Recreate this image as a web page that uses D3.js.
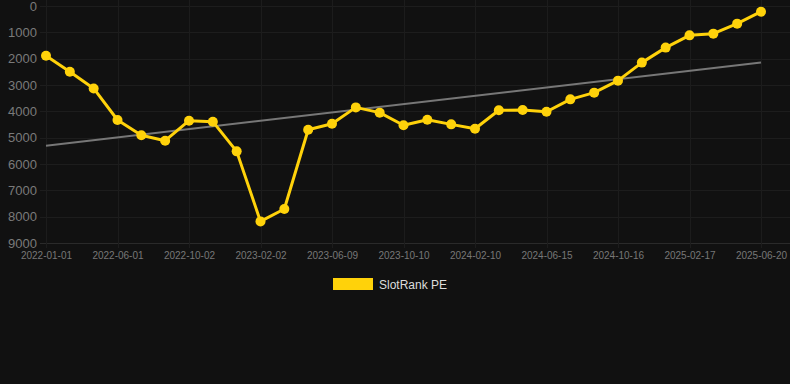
<!DOCTYPE html>
<html>
<head>
<meta charset="utf-8">
<script src="https://cdn.jsdelivr.net/npm/d3@7"></script>
<style>
  html, body { margin: 0; padding: 0; background: #111111; }
  svg { display: block; font-family: "Liberation Sans", Arial, sans-serif; }
</style>
</head>
<body>
<div class="container"></div>
<script>
const width = 790;
const height = 384;

// x categories (every 3rd one is labelled)
const dates = [
  '2022-01-01', '2022-02-20', '2022-04-11', '2022-06-01', '2022-07-12', '2022-08-22',
  '2022-10-02', '2022-11-12', '2022-12-23', '2023-02-02', '2023-03-15', '2023-04-27',
  '2023-06-09', '2023-07-20', '2023-08-30', '2023-10-10', '2023-11-20', '2023-12-31',
  '2024-02-10', '2024-03-22', '2024-05-04', '2024-06-15', '2024-07-26', '2024-09-05',
  '2024-10-16', '2024-11-26', '2025-01-07', '2025-02-17', '2025-03-30', '2025-05-10',
  '2025-06-20'
];

const tickLabels = [
  '2022-01-01', '2022-06-01', '2022-10-02', '2023-02-02', '2023-06-09', '2023-10-10',
  '2024-02-10', '2024-06-15', '2024-10-16', '2025-02-17', '2025-06-20'
];

// SlotRank PE values
const peValues = [
  1890, 2495, 3130, 4330, 4910, 5115, 4355, 4393, 5520, 8180, 7710,
  4700, 4470, 3850, 4050, 4530, 4320, 4495, 4660, 3960, 3950, 4015,
  3545, 3290, 2835, 2150, 1580, 1115, 1050, 670, 215
];

// trend line, first and last value
const trendValues = [5305, 2150];

const yTicks = [0, 1000, 2000, 3000, 4000, 5000, 6000, 7000, 8000, 9000];

const x = d3.scalePoint().domain(dates).range([46, 761]);
const y = d3.scaleLinear().domain([0, 9000]).range([6, 243]);

const svg = d3.select('.container')
  .append('svg')
  .attr('width', width)
  .attr('height', height);

// horizontal grid
svg.append('g')
  .selectAll('line')
  .data(yTicks)
  .enter()
  .append('line')
  .attr('x1', 40)
  .attr('x2', width)
  .attr('y1', d => Math.round(y(d)) + 0.5)
  .attr('y2', d => Math.round(y(d)) + 0.5)
  .attr('stroke', d => d === 9000 ? '#2a2a2a' : '#1d1d1d')
  .attr('stroke-width', 1);

// vertical grid
svg.append('g')
  .selectAll('line')
  .data(tickLabels)
  .enter()
  .append('line')
  .attr('x1', d => Math.round(x(d)) + 0.5)
  .attr('x2', d => Math.round(x(d)) + 0.5)
  .attr('y1', 0)
  .attr('y2', 248)
  .attr('stroke', '#1c1c1c')
  .attr('stroke-width', 1);

// y axis labels
const yAxis = d3.axisLeft(y).tickValues(yTicks).tickFormat(d3.format('d')).tickSize(0).tickPadding(0);
svg.append('g')
  .attr('transform', 'translate(37,0)')
  .call(yAxis)
  .call(g => g.select('.domain').remove())
  .selectAll('text')
  .attr('fill', '#7a7a7a')
  .style('font-size', '13px');

// x axis labels
const xAxis = d3.axisBottom(x).tickValues(tickLabels).tickSize(0).tickPadding(0);
svg.append('g')
  .attr('transform', 'translate(0,252)')
  .call(xAxis)
  .call(g => g.select('.domain').remove())
  .selectAll('text')
  .attr('fill', '#777777')
  .style('font-size', '10px');

// trend line
svg.append('line')
  .attr('x1', x(dates[0]))
  .attr('y1', y(trendValues[0]))
  .attr('x2', x(dates[dates.length - 1]))
  .attr('y2', y(trendValues[1]))
  .attr('stroke', '#777777')
  .attr('stroke-width', 2);

// PE line
const line = d3.line()
  .x((d, i) => x(dates[i]))
  .y(d => y(d));

svg.append('path')
  .datum(peValues)
  .attr('d', line)
  .attr('fill', 'none')
  .attr('stroke', '#ffd20a')
  .attr('stroke-width', 3)
  .attr('stroke-linejoin', 'round');

svg.selectAll('circle')
  .data(peValues)
  .enter()
  .append('circle')
  .attr('cx', (d, i) => x(dates[i]))
  .attr('cy', d => y(d))
  .attr('r', 5)
  .attr('fill', '#ffd20a');

// legend
const legend = svg.append('g').attr('transform', 'translate(333,278)');
legend.append('rect')
  .attr('width', 40)
  .attr('height', 12)
  .attr('fill', '#ffd20a');
legend.append('text')
  .attr('x', 46)
  .attr('y', 11)
  .attr('fill', '#dddddd')
  .style('font-size', '12px')
  .text('SlotRank PE');
</script>
</body>
</html>
